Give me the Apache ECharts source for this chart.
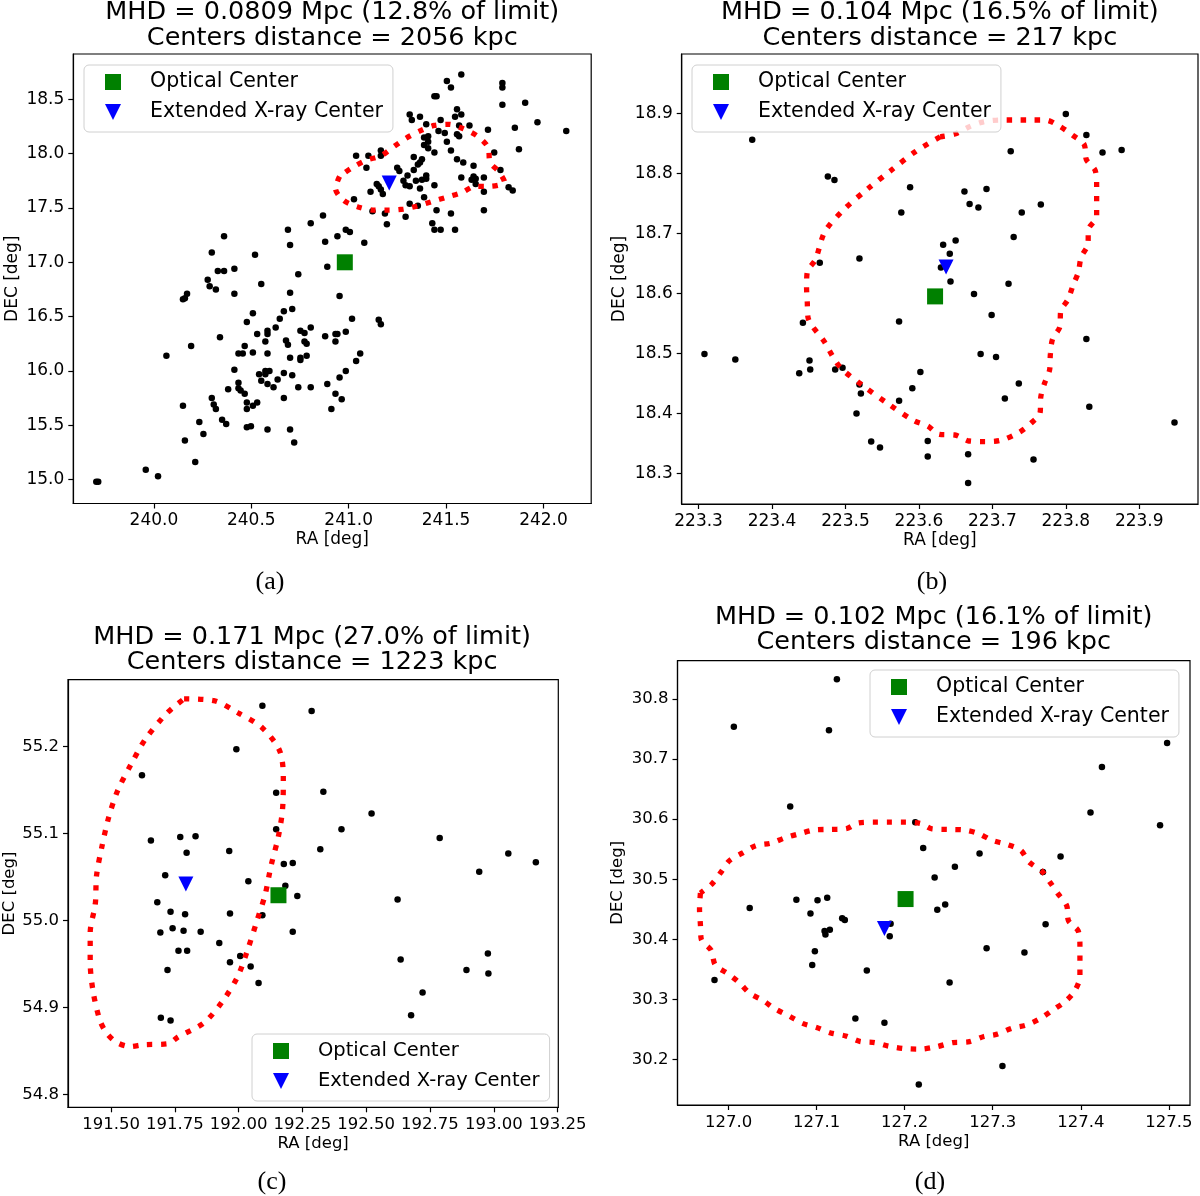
<!DOCTYPE html>
<html>
<head>
<meta charset="utf-8">
<title>Optical vs X-ray centers</title>
<script src="https://cdn.jsdelivr.net/npm/echarts@6/dist/echarts.min.js"></script>
<style>
  html, body { margin: 0; padding: 0; background: #fff; }
  #chart { width: 1200px; height: 1196px; }
</style>
</head>
<body>
<div id="chart"></div>
<script>
// ---- panel (a) ----
var aMembers = [
  [239.704,14.98],[239.714,14.98],[239.958,15.09],[240.021,15.03],[240.212,15.16],[240.159,15.36],[240.254,15.42],
  [240.233,15.53],[240.149,15.68],[240.297,15.75],[240.307,15.69],[240.318,15.65],[240.350,15.55],[240.371,15.51],
  [240.381,15.83],[240.413,16.01],[240.434,15.89],[240.434,15.84],[240.445,15.82],[240.466,15.79],[240.477,15.71],
  [240.477,15.65],[240.508,15.68],[240.530,15.71],[240.477,15.48],[240.498,15.49],[240.583,15.46],[240.699,15.46],
  [240.720,15.34],[240.667,15.75],[240.540,15.97],[240.551,15.91],[240.572,16.00],[240.572,15.97],[240.593,16.00],
  [240.583,15.88],[240.614,15.85],[240.635,15.92],[240.667,15.98],[240.710,15.96],[240.741,15.85],[240.805,15.85],
  [240.890,15.88],[240.932,15.79],[240.964,15.74],[240.911,15.65],[240.953,15.94],[240.985,16.00],[241.038,16.09],
  [241.059,16.16],[241.154,16.47],[241.165,16.43],[241.017,16.48],[240.985,16.36],[240.932,16.34],[240.942,16.34],
  [240.932,16.27],[240.879,16.32],[240.805,16.40],[240.752,16.37],[240.773,16.35],[240.773,16.27],[240.784,16.25],
  [240.784,16.14],[240.752,16.12],[240.752,16.10],[240.699,16.12],[240.678,16.28],[240.688,16.24],[240.583,16.16],
  [240.572,16.27],[240.583,16.37],[240.583,16.34],[240.530,16.34],[240.625,16.40],[240.646,16.48],[240.667,16.55],
  [240.710,16.57],[240.508,16.53],[240.477,16.45],[240.466,16.23],[240.434,16.16],[240.456,16.16],[240.508,16.17],
  [240.339,16.31],[240.191,16.23],[240.064,16.14],[240.149,16.66],[240.159,16.67],[240.170,16.71],[240.276,16.84],
  [240.286,16.78],[240.318,16.75],[240.328,16.92],[240.360,16.92],[240.413,16.94],[240.413,16.71],[240.297,17.09],
  [240.360,17.24],[240.519,17.07],[240.551,16.80],[240.699,16.72],[240.741,16.89],[240.699,17.16],[240.688,17.30],
  [240.805,17.36],[240.868,17.43],[240.879,17.19],[240.890,16.96],[240.942,17.24],[240.985,17.30],[241.006,17.28],
  [241.080,17.18],[240.953,16.69],[241.196,17.35],[241.186,17.45],[241.122,17.47],
  [241.578,18.73],[241.504,18.67],[241.525,18.61],[241.789,18.65],[241.789,18.61],[241.440,18.53],[241.451,18.53],
  [241.906,18.47],[241.789,18.45],[241.969,18.29],[242.117,18.21],[241.853,18.24],[241.874,18.04],[241.715,18.22],
  [241.747,18.01],[241.779,17.85],[241.821,17.69],[241.842,17.66],[241.694,17.48],[241.694,17.65],[241.694,17.78],
  [241.641,17.89],[241.641,17.79],[241.652,17.77],[241.631,17.76],[241.652,17.72],[241.588,17.92],[241.578,17.78],
  [241.556,17.95],[241.620,18.26],[241.556,18.41],[241.578,18.36],[241.546,18.34],[241.567,18.26],[241.556,18.18],
  [241.567,18.16],[241.472,18.31],[241.493,18.19],[241.504,18.11],[241.525,18.03],[241.461,18.21],[241.440,18.01],
  [241.398,18.27],[241.366,18.34],[241.324,18.31],[241.313,18.36],[241.387,18.15],[241.408,18.16],[241.408,18.11],
  [241.387,18.08],[241.408,18.05],[241.334,17.97],[241.376,17.95],[241.366,17.92],[241.355,17.90],[241.334,17.85],
  [241.249,17.87],[241.260,17.84],[241.302,17.80],[241.281,17.75],[241.292,17.71],[241.313,17.70],[241.345,17.75],
  [241.376,17.76],[241.398,17.80],[241.398,17.77],[241.366,17.68],[241.440,17.71],[241.387,17.60],[241.313,17.54],
  [241.355,17.52],[241.451,17.48],[241.525,17.45],[241.429,17.36],[241.440,17.30],[241.472,17.30],[241.546,17.30],
  [241.292,17.42],[241.101,17.98],[241.165,18.03],[241.165,17.98],[241.091,17.87],[241.038,17.98],[241.144,17.72],
  [241.154,17.70],[241.165,17.67],[241.175,17.63],[241.112,17.65],[241.027,17.58]
];
var aContour = [
  [240.953,17.79],[240.932,17.68],[240.974,17.57],[241.048,17.51],[241.133,17.48],[241.207,17.48],[241.281,17.49],
  [241.355,17.52],[241.429,17.56],[241.504,17.60],[241.578,17.64],[241.652,17.70],[241.726,17.70],[241.800,17.74],
  [241.768,17.84],[241.726,17.92],[241.715,18.06],[241.662,18.16],[241.588,18.23],[241.514,18.27],[241.440,18.26],
  [241.366,18.21],[241.292,18.14],[241.228,18.06],[241.165,17.98],[241.091,17.94],[241.017,17.87],[240.953,17.79]
];
var aOptical = [[240.980, 17.00]];
var aXray = [[241.208, 17.73]];
var aRaTicks = [240.0, 240.5, 241.0, 241.5, 242.0];
var aDecTicks = [15.0, 15.5, 16.0, 16.5, 17.0, 17.5, 18.0, 18.5];

// ---- panel (b) ----
var bMembers = [
  [223.373,18.856],[223.476,18.795],[223.485,18.789],[223.588,18.777],[223.576,18.735],[223.519,18.658],[223.465,18.651],
  [223.573,18.553],[223.442,18.551],[223.308,18.499],[223.350,18.490],[223.451,18.488],[223.452,18.473],[223.437,18.467],
  [223.486,18.473],[223.496,18.476],[223.602,18.469],[223.591,18.442],[223.519,18.448],[223.521,18.433],[223.573,18.421],
  [223.515,18.400],[223.535,18.353],[223.547,18.343],[223.612,18.354],[223.612,18.328],
  [223.800,18.899],[223.828,18.864],[223.725,18.837],[223.850,18.835],[223.876,18.839],[223.662,18.770],[223.692,18.774],
  [223.669,18.749],[223.681,18.743],[223.766,18.748],[223.740,18.735],[223.729,18.694],[223.633,18.681],[223.650,18.688],
  [223.642,18.666],[223.630,18.643],[223.643,18.620],[223.722,18.616],[223.675,18.599],[223.699,18.564],[223.828,18.524],
  [223.684,18.499],[223.705,18.494],[223.736,18.450],[223.717,18.425],[223.832,18.411],[223.948,18.385],[223.756,18.323],
  [223.667,18.332],[223.667,18.284]
];
var bContour = [
  [223.629,18.861],[223.596,18.837],[223.562,18.805],[223.530,18.774],[223.498,18.740],[223.472,18.703],[223.459,18.656],
  [223.448,18.636],[223.447,18.611],[223.448,18.585],[223.449,18.560],[223.471,18.520],[223.492,18.478],[223.524,18.446],
  [223.558,18.416],[223.593,18.388],[223.612,18.379],[223.628,18.365],[223.649,18.364],[223.668,18.354],[223.689,18.353],
  [223.711,18.355],[223.736,18.368],[223.752,18.383],[223.765,18.401],[223.766,18.428],[223.771,18.450],[223.778,18.473],
  [223.779,18.499],[223.782,18.524],[223.792,18.545],[223.793,18.570],[223.803,18.590],[223.810,18.614],[223.817,18.635],
  [223.821,18.661],[223.830,18.681],[223.831,18.707],[223.842,18.728],[223.842,18.754],[223.842,18.779],[223.840,18.805],
  [223.828,18.823],[223.825,18.848],[223.809,18.864],[223.791,18.879],[223.772,18.889],[223.752,18.889],[223.730,18.889],
  [223.710,18.889],[223.688,18.886],[223.669,18.878],[223.650,18.866],[223.629,18.861]
];
var bOptical = [[223.622, 18.595]];
var bXray = [[223.637, 18.644]];
var bRaTicks = [223.3, 223.4, 223.5, 223.6, 223.7, 223.8, 223.9];
var bDecTicks = [18.3, 18.4, 18.5, 18.6, 18.7, 18.8, 18.9];

// ---- panel (c) ----
var cMembers = [
  [192.093,55.247],[192.286,55.241],[191.991,55.197],[191.621,55.167],[192.147,55.147],[191.656,55.092],[191.771,55.096],
  [191.831,55.097],[191.796,55.078],[191.963,55.080],[192.147,55.105],[192.177,55.065],[192.212,55.066],[191.712,55.052],
  [192.038,55.045],[192.183,55.040],[192.230,55.028],[191.681,55.021],[191.733,55.010],[191.790,55.007],[191.966,55.008],
  [192.093,55.006],[191.693,54.986],[191.741,54.991],[191.784,54.988],[191.851,54.987],[192.212,54.987],[191.924,54.974],
  [191.764,54.965],[191.798,54.965],[192.006,54.959],[191.966,54.952],[192.047,54.947],[191.721,54.943],[192.078,54.928],
  [191.695,54.888],[191.733,54.885],
  [192.332,55.148],[192.521,55.123],[192.403,55.105],[192.320,55.082],[192.788,55.095],[193.057,55.077],[193.165,55.067],
  [192.943,55.056],[192.623,55.024],[192.635,54.955],[192.977,54.962],[192.979,54.939],[192.893,54.943],[192.721,54.917],
  [192.676,54.891]
];
var cContour = [
  [191.786,55.255],[191.902,55.253],[191.997,55.239],[192.091,55.222],[192.161,55.195],[192.175,55.163],[192.172,55.128],
  [192.156,55.097],[192.127,55.063],[192.104,55.030],[192.071,54.999],[192.036,54.967],[191.997,54.936],[191.937,54.907],
  [191.863,54.882],[191.763,54.866],[191.721,54.858],[191.628,54.857],[191.574,54.855],[191.520,54.860],[191.481,54.871],
  [191.455,54.886],[191.429,54.919],[191.418,54.952],[191.418,54.986],[191.438,55.019],[191.443,55.052],[191.464,55.085],
  [191.490,55.118],[191.525,55.149],[191.577,55.179],[191.633,55.208],[191.704,55.234],[191.743,55.245],[191.786,55.255]
];
var cOptical = [[192.156, 55.029]];
var cXray = [[191.793, 55.042]];
var cRaTicks = [191.50, 191.75, 192.00, 192.25, 192.50, 192.75, 193.00, 193.25];
var cDecTicks = [54.8, 54.9, 55.0, 55.1, 55.2];

// ---- panel (d) ----
var dMembers = [
  [127.123,30.833],[127.006,30.754],[127.114,30.748],[127.070,30.621],[127.212,30.595],[127.221,30.552],[127.234,30.503],
  [127.077,30.466],[127.101,30.465],[127.112,30.469],[127.024,30.452],[127.093,30.443],[127.129,30.435],[127.132,30.432],
  [127.109,30.414],[127.115,30.416],[127.110,30.408],[127.184,30.426],[127.183,30.405],[127.098,30.380],[127.095,30.357],
  [127.157,30.348],[126.984,30.332],[127.144,30.268],[127.177,30.261],[127.216,30.158],
  [127.498,30.727],[127.424,30.687],[127.411,30.611],[127.490,30.590],[127.285,30.543],[127.377,30.538],[127.257,30.521],
  [127.357,30.512],[127.237,30.449],[127.246,30.458],[127.360,30.425],[127.293,30.385],[127.336,30.378],[127.251,30.328],
  [127.311,30.189]
];
var dContour = [
  [126.968,30.477],[126.967,30.450],[126.968,30.425],[126.969,30.400],[126.980,30.382],[126.985,30.357],[126.999,30.343],
  [127.012,30.328],[127.024,30.310],[127.039,30.298],[127.053,30.284],[127.069,30.272],[127.084,30.260],[127.100,30.253],
  [127.116,30.244],[127.133,30.239],[127.149,30.230],[127.166,30.228],[127.182,30.222],[127.200,30.218],[127.217,30.217],
  [127.236,30.221],[127.255,30.228],[127.272,30.229],[127.290,30.238],[127.305,30.242],[127.322,30.252],[127.338,30.257],
  [127.354,30.268],[127.368,30.282],[127.382,30.296],[127.393,30.314],[127.399,30.338],[127.399,30.363],[127.399,30.388],
  [127.397,30.414],[127.386,30.431],[127.384,30.456],[127.374,30.476],[127.365,30.495],[127.356,30.513],[127.341,30.529],
  [127.332,30.548],[127.316,30.558],[127.299,30.565],[127.284,30.576],[127.268,30.582],[127.250,30.583],[127.231,30.584],
  [127.218,30.593],[127.200,30.595],[127.182,30.595],[127.165,30.595],[127.148,30.594],[127.133,30.584],[127.114,30.583],
  [127.097,30.582],[127.081,30.576],[127.064,30.569],[127.048,30.560],[127.031,30.556],[127.016,30.544],[127.001,30.531],
  [126.991,30.511],[126.981,30.492],[126.968,30.477]
];
var dOptical = [[127.201, 30.467]];
var dXray = [[127.177, 30.418]];
var dRaTicks = [127.0, 127.1, 127.2, 127.3, 127.4, 127.5];
var dDecTicks = [30.2, 30.3, 30.4, 30.5, 30.6, 30.7, 30.8];

var TRI = 'path://M0,0L10,0L5,10Z';
var FONT = 'DejaVu Sans';

var panels = [
  { grid: {left: 73.3, top: 54, width: 517.9, height: 449.5}, ra: [239.586, 242.245], dec: [14.779, 18.918],
    raTicks: aRaTicks, decTicks: aDecTicks, raDig: 1, decDig: 1,
    members: aMembers, contour: aContour, optical: aOptical, xray: aXray,
    title: ['MHD = 0.0809 Mpc (12.8% of limit)', 'Centers distance = 2056 kpc'], titleY: 12.5,
    legend: {left: 84, top: 65}, caption: '(a)', capX: 270, capY: 582, fs: 17, lfs: 20.5, nameGap: 52 },
  { grid: {left: 681.7, top: 54, width: 516.3, height: 450}, ra: [223.277, 223.980], dec: [18.249, 18.999],
    raTicks: bRaTicks, decTicks: bDecTicks, raDig: 1, decDig: 1,
    members: bMembers, contour: bContour, optical: bOptical, xray: bXray,
    title: ['MHD = 0.104 Mpc (16.5% of limit)', 'Centers distance = 217 kpc'], titleY: 12.5,
    legend: {left: 692, top: 65}, caption: '(b)', capX: 932, capY: 582, fs: 17, lfs: 20.5, nameGap: 54 },
  { grid: {left: 66, top: 679.7, width: 492.3, height: 427.6}, ra: [191.331, 193.253], dec: [54.785, 55.277],
    raTicks: cRaTicks, decTicks: cDecTicks, raDig: 2, decDig: 1,
    members: cMembers, contour: cContour, optical: cOptical, xray: cXray,
    title: ['MHD = 0.171 Mpc (27.0% of limit)', 'Centers distance = 1223 kpc'], titleY: 637,
    legend: {left: 252, top: 1034}, caption: '(c)', capX: 272, capY: 1182, fs: 16.5, lfs: 19.5, nameGap: 50 },
  { grid: {left: 677.5, top: 660.7, width: 512.5, height: 444.3}, ra: [126.942, 127.524], dec: [30.124, 30.864],
    raTicks: dRaTicks, decTicks: dDecTicks, raDig: 1, decDig: 1,
    members: dMembers, contour: dContour, optical: dOptical, xray: dXray,
    title: ['MHD = 0.102 Mpc (16.1% of limit)', 'Centers distance = 196 kpc'], titleY: 617,
    legend: {left: 870, top: 670}, caption: '(d)', capX: 930, capY: 1182, fs: 16.5, lfs: 20.5, nameGap: 51 }
];

var option = {
  animation: false,
  backgroundColor: '#fff',
  grid: [], xAxis: [], yAxis: [], series: [], legend: [], graphic: []
};

function textEl(x, y, str, size, family) {
  return {
    type: 'text', x: x, y: y, z: 100,
    style: { text: str, fontSize: size, fontFamily: family, fill: '#000',
             align: 'center', verticalAlign: 'middle', textAlign: 'center', textVerticalAlign: 'middle' }
  };
}

panels.forEach(function (p, i) {
  option.grid.push(Object.assign({show: true, borderColor: '#000', borderWidth: 1.2, backgroundColor: 'transparent'}, p.grid));
  var axisCommon = function (ticks, dig, fs) {
    return {
      axisLine: {show: true, onZero: false, lineStyle: {color: '#000', width: 1.2}},
      axisTick: {show: true, inside: false, length: 5, lineStyle: {color: '#000', width: 1.2}, customValues: ticks},
      axisLabel: {show: true, customValues: ticks, color: '#000', fontSize: fs, fontFamily: FONT, margin: 9,
                  formatter: function (v) { return Number(v).toFixed(dig); }},
      splitLine: {show: false}
    };
  };
  option.xAxis.push(Object.assign({
    type: 'value', gridIndex: i, min: p.ra[0], max: p.ra[1],
    name: 'RA [deg]', nameLocation: 'middle', nameGap: 28,
    nameTextStyle: {color: '#000', fontSize: p.fs, fontFamily: FONT}
  }, axisCommon(p.raTicks, p.raDig, p.fs)));
  option.yAxis.push(Object.assign({
    type: 'value', gridIndex: i, min: p.dec[0], max: p.dec[1],
    name: 'DEC [deg]', nameLocation: 'middle', nameGap: p.nameGap,
    nameTextStyle: {color: '#000', fontSize: p.fs, fontFamily: FONT}
  }, axisCommon(p.decTicks, p.decDig, p.fs)));

  option.series.push({
    type: 'scatter', name: 'members' + i, xAxisIndex: i, yAxisIndex: i,
    data: p.members, symbol: 'circle', symbolSize: 6.5, itemStyle: {color: '#000', opacity: 1}, z: 2
  });
  option.series.push({
    type: 'line', name: 'contour' + i, xAxisIndex: i, yAxisIndex: i,
    data: p.contour, showSymbol: false, smooth: 0.3,
    lineStyle: {color: '#ff0000', width: 5.3, type: [5.3, 8.7], cap: 'butt', opacity: 1}, z: 3
  });
  option.series.push({
    type: 'scatter', name: 'Optical Center', xAxisIndex: i, yAxisIndex: i,
    data: p.optical, symbol: 'rect', symbolSize: 16, itemStyle: {color: '#008000', opacity: 1}, z: 4
  });
  option.series.push({
    type: 'scatter', name: 'Extended X-ray Center', xAxisIndex: i, yAxisIndex: i,
    data: p.xray, symbol: TRI, symbolSize: [15, 15], itemStyle: {color: '#0000ff', opacity: 1}, z: 4
  });

  option.legend.push({
    left: p.legend.left, top: p.legend.top, orient: 'vertical', selectedMode: false,
    data: [{name: 'Optical Center', icon: 'rect'}, {name: 'Extended X-ray Center', icon: TRI}],
    itemWidth: 16, itemHeight: 16, itemGap: 8,
    itemStyle: {opacity: 1},
    padding: [6, 10, 9, 21],
    backgroundColor: 'rgba(255,255,255,0.8)', borderColor: '#d0d0d0', borderWidth: 1, borderRadius: 5,
    textStyle: {color: '#000', fontSize: p.lfs, fontFamily: FONT, lineHeight: 22, padding: [0, 0, 0, 24]}
  });

  var cx = p.grid.left + p.grid.width / 2;
  option.graphic.push(textEl(cx, p.titleY, p.title[0], 25.5, FONT));
  option.graphic.push(textEl(cx, p.titleY + 25.5, p.title[1], 25.5, FONT));
  option.graphic.push(textEl(p.capX, p.capY, p.caption, 26, 'Liberation Serif'));
});

var chart = echarts.init(document.getElementById('chart'), null, {renderer: 'canvas'});
chart.setOption(option);
</script>
</body>
</html>
